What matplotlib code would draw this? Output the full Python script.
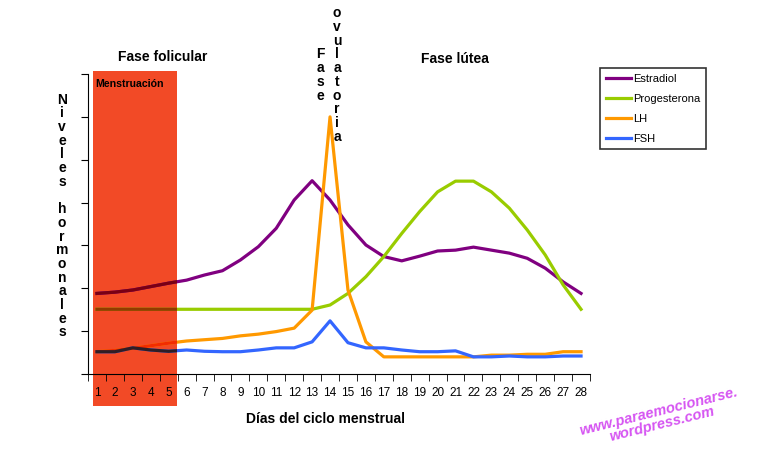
import matplotlib.pyplot as plt
from matplotlib.patches import Rectangle

plt.rcParams['font.family'] = ['Liberation Sans', 'DejaVu Sans']

dias = list(range(1, 29))
estradiol = [1.88, 1.91, 1.96, 2.04, 2.12, 2.19, 2.31, 2.41, 2.66, 2.97, 3.40, 4.06, 4.51, 4.06,
             3.48, 3.01, 2.74, 2.64, 2.75, 2.87, 2.89, 2.96, 2.89, 2.82, 2.70, 2.47, 2.15, 1.88]
progesterona = [1.51] * 13 + [1.61, 1.88, 2.27, 2.74, 3.28, 3.79, 4.25, 4.50, 4.50,
                              4.25, 3.87, 3.36, 2.78, 2.08, 1.51]
lh = [0.52, 0.55, 0.60, 0.66, 0.72, 0.77, 0.80, 0.83, 0.89, 0.93, 0.99, 1.07, 1.49, 6.0,
      1.96, 0.75, 0.40, 0.40, 0.40, 0.40, 0.40, 0.40, 0.44, 0.44, 0.46, 0.46, 0.52, 0.52]
fsh = [0.52, 0.52, 0.61, 0.56, 0.53, 0.56, 0.53, 0.52, 0.52, 0.56, 0.61, 0.61, 0.75, 1.24,
       0.73, 0.61, 0.61, 0.56, 0.52, 0.52, 0.54, 0.40, 0.40, 0.42, 0.40, 0.40, 0.42, 0.42]

series = [('Estradiol', estradiol, '#800080'),
          ('Progesterona', progesterona, '#99CC00'),
          ('LH', lh, '#FF9900'),
          ('FSH', fsh, '#3366FF')]

red = (0.95, 0.29, 0.15)
W, H = 768, 466


def fx(x):
    return x / W


def fy(y):
    return 1 - y / H


fig = plt.figure(figsize=(7.68, 4.66), dpi=100)
ax = fig.add_axes([fx(88), fy(374), fx(590) - fx(88), fy(74) - fy(374)])
ax.set_xlim(0.5, 28.5)
ax.set_ylim(0, 7)

# menstruation band (extends below the axis)
band = Rectangle((0.78, -0.75), 5.46 - 0.78, 7.82, facecolor=red, edgecolor='none',
                 zorder=1, clip_on=False)
ax.add_patch(band)

for name, vals, col in series:
    ax.plot(dias, vals, color=col, lw=2.3, label=name, zorder=3)
    # darker look of the lines seen through the red band
    dark = tuple(a * b for a, b in zip(plt.matplotlib.colors.to_rgb(col), red))
    ln, = ax.plot(dias, vals, color=dark, lw=2.3, zorder=3.5)
    ln.set_clip_path(band)

for s in ['top', 'right']:
    ax.spines[s].set_visible(False)
ax.spines['left'].set_zorder(5)
ax.spines['bottom'].set_zorder(5)

ax.set_xticks(dias)
ax.set_xticklabels([str(d) for d in dias], fontsize=8.5)
ax.set_xticks([d - 0.5 for d in dias] + [28.5], minor=True)
ax.tick_params(axis='x', which='major', length=0, pad=9)
ax.tick_params(axis='x', which='minor', length=5, direction='out')
ax.set_yticks(range(0, 8))
ax.set_yticklabels([])
ax.tick_params(axis='y', length=5, direction='out')

ax.text(0.9, 6.7, 'Menstruación', fontsize=7.6, fontweight='bold', zorder=6)

fig.text(fx(163), fy(57), 'Fase folicular', fontsize=10, fontweight='bold', ha='center', va='center')
fig.text(fx(455), fy(59), 'Fase lútea', fontsize=10, fontweight='bold', ha='center', va='center')
fig.text(fx(320), fy(75), '\n'.join('Fase'), fontsize=10, fontweight='bold',
         ha='center', va='center', linespacing=0.97)
fig.text(fx(337), fy(75), '\n'.join('ovulatoria'), fontsize=10, fontweight='bold',
         ha='center', va='center', linespacing=0.97)
fig.text(fx(62), fy(216), '\n'.join('Niveles hormonales'), fontsize=10, fontweight='bold',
         ha='center', va='center', linespacing=0.97)
fig.text(fx(326), fy(419), 'Días del ciclo menstrual', fontsize=10, fontweight='bold',
         ha='center', va='center')
fig.text(fx(660), fy(418), 'www.paraemocionarse.\nwordpress.com', fontsize=10.5,
         fontweight='bold', style='italic', color='#D655F2', ha='center', va='center',
         rotation=14, linespacing=0.9)

leg = fig.legend(loc='upper left', bbox_to_anchor=(fx(600), fy(68)), fontsize=8,
                 frameon=True, fancybox=False, handlelength=2.3, handletextpad=0.2,
                 labelspacing=0.9, borderpad=0.5, borderaxespad=0)
leg.get_frame().set_edgecolor('black')
leg.get_frame().set_linewidth(1.2)

fig.savefig('out.png', dpi=100)
